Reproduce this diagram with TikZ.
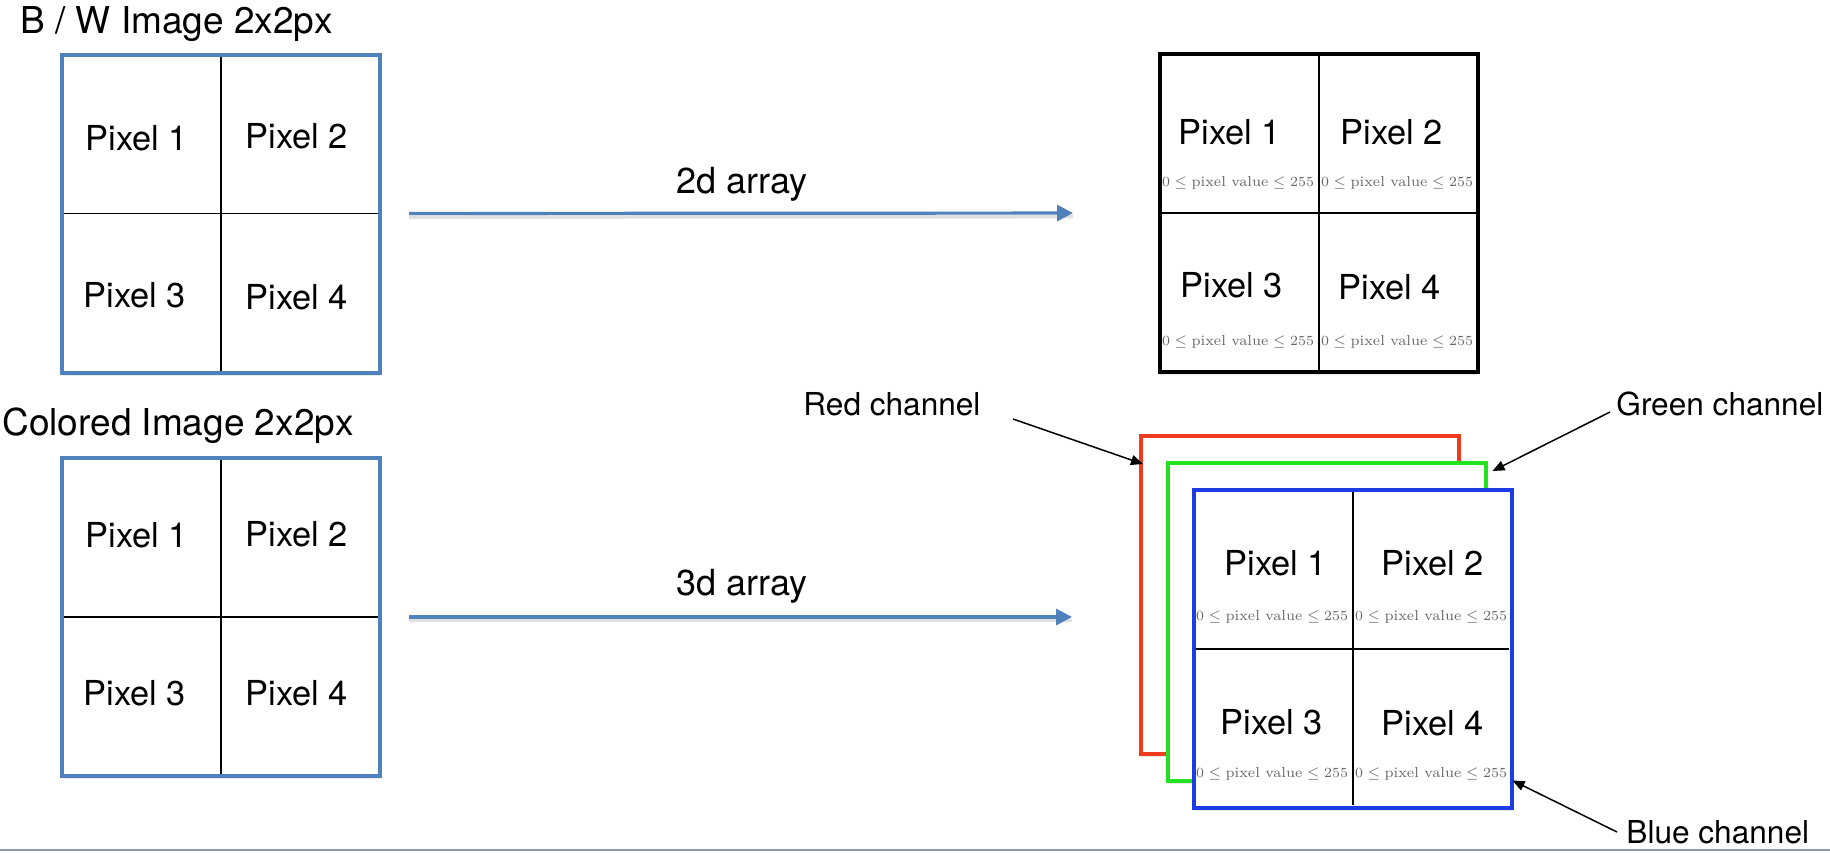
\documentclass[tikz,border=0pt]{standalone}
\usepackage[no-math]{fontspec}
\setmainfont{TeX Gyre Heros}
\usetikzlibrary{arrows.meta,calc,shadows}

\definecolor{pptblue}{HTML}{4F81BD}
\definecolor{chred}{HTML}{F03C1E}
\definecolor{chgreen}{HTML}{22E322}
\definecolor{chblue}{HTML}{1E3CE6}
\definecolor{rangegray}{HTML}{666666}
\definecolor{slideline}{HTML}{8C9BAA}

% value range printed under each pixel of an array
\newcommand{\pxrange}{$0\leq\mbox{pixel value}\leq255$}

\begin{document}
\begin{tikzpicture}[x=0.5pt,y=-0.5pt,
  grid/.style={draw, fill=white, line width=2pt, minimum width=159pt,
    minimum height=159pt, outer sep=0pt, inner sep=0pt,
    drop shadow={shadow xshift=0pt, shadow yshift=-1.5pt, opacity=0.18}},
  thindiv/.style={line width=0.6pt, shorten <=1pt, shorten >=1pt},
  thickdiv/.style={line width=1pt, shorten <=1.1pt, shorten >=1.1pt},
  pixlbl/.style={font=\fontsize{17.2}{19}\selectfont, inner sep=0pt},
  rangelbl/.style={font=\fontsize{7.2}{8.5}\fontfamily{lmr}\selectfont,
    text=rangegray, inner sep=0pt},
  title/.style={font=\fontsize{18.5}{21}\selectfont, inner sep=0pt},
  arrlbl/.style={font=\fontsize{18}{21}\selectfont, inner sep=0pt},
  chlbl/.style={font=\fontsize{15.8}{18}\selectfont, inner sep=0pt},
  bluearrow/.style={draw=pptblue, line width=1.6pt,
    -{Triangle[length=8pt,width=8pt]},
    preaction={-, draw=black, draw opacity=0.12, line width=1.8pt,
      transform canvas={yshift=-1.8pt}}},
  callout/.style={draw=black, line width=0.75pt,
    -{Triangle[length=6pt,width=5pt]}}
]
\useasboundingbox (0,0) rectangle (1830,852);
\fill[white] (0,0) rectangle (1830,852);

% ---- black & white image ----
\node[title, anchor=base west] (bwtitle) at (20,33) {B / W Image 2x2px};
\node[grid, draw=pptblue] (bwimg) at (221,213.5) {};
\draw[thindiv] (bwimg.north) -- (bwimg.south);
\draw[thindiv] (bwimg.west) -- (bwimg.east);
\node[pixlbl] (bwp1) at (137,138) {Pixel 1};
\node[pixlbl] (bwp2) at (297,136) {Pixel 2};
\node[pixlbl] (bwp3) at (135,295) {Pixel 3};
\node[pixlbl] (bwp4) at (297,297) {Pixel 4};

% ---- coloured image ----
\node[title, anchor=base west] (coltitle) at (2,435) {Colored Image 2x2px};
\node[grid, draw=pptblue] (colimg) at (221,617) {};
\draw[thindiv] (colimg.north) -- (colimg.south);
\draw[thindiv] (colimg.west) -- (colimg.east);
\node[pixlbl] (cp1) at (137,535) {Pixel 1};
\node[pixlbl] (cp2) at (297,534) {Pixel 2};
\node[pixlbl] (cp3) at (135,693) {Pixel 3};
\node[pixlbl] (cp4) at (297,693) {Pixel 4};

% ---- 2d array ----
\node[grid, draw=black, line width=2.2pt] (arr2d) at (1319,213) {};
\draw[thickdiv] (arr2d.north) -- (arr2d.south);
\draw[thickdiv] (arr2d.west) -- (arr2d.east);
\node[pixlbl] (ap1) at (1230,132) {Pixel 1};
\node[pixlbl] (ap2) at (1392,132) {Pixel 2};
\node[pixlbl] (ap3) at (1232,285) {Pixel 3};
\node[pixlbl] (ap4) at (1390,287) {Pixel 4};
\node[rangelbl] (ar1) at (1238,183) {\pxrange};
\node[rangelbl] (ar2) at (1397,183) {\pxrange};
\node[rangelbl] (ar3) at (1238,342) {\pxrange};
\node[rangelbl] (ar4) at (1397,342) {\pxrange};

% ---- 3d array: one layer per channel ----
\node[grid, draw=chred] (red) at (1300,595) {};
\node[grid, draw=chgreen] (green) at (1326.5,622) {};
\node[grid, draw=chblue] (blue) at (1352.5,648.5) {};
\draw[thickdiv] (blue.north) -- (blue.south);
\draw[thickdiv] (blue.west) -- (blue.east);
\node[pixlbl] (bp1) at (1276,563) {Pixel 1};
\node[pixlbl] (bp2) at (1433,563) {Pixel 2};
\node[pixlbl] (bp3) at (1272,722) {Pixel 3};
\node[pixlbl] (bp4) at (1433,723) {Pixel 4};
\node[rangelbl] (br1) at (1272,617) {\pxrange};
\node[rangelbl] (br2) at (1431,617) {\pxrange};
\node[rangelbl] (br3) at (1272,774) {\pxrange};
\node[rangelbl] (br4) at (1431,774) {\pxrange};

% ---- conversions ----
\draw[bluearrow, shorten <=14.5pt, shorten >=43.5pt] (bwimg.east) -- (arr2d.west);
\node[arrlbl, anchor=base] (lbl2d) at (742,193) {2d array};
\draw[bluearrow, shorten <=14.5pt, shorten >=34.5pt] (colimg.east) -- (colimg.east -| red.west);
\node[arrlbl, anchor=base] (lbl3d) at (742,595) {3d array};

% ---- channel call-outs ----
\node[chlbl, anchor=base west] (redlbl) at (803,415) {Red channel};
\node[chlbl, anchor=base west] (greenlbl) at (1616,415) {Green channel};
\node[chlbl, anchor=base west] (bluelbl) at (1626,843) {Blue channel};
\coordinate (redtail) at (1013,419);
\coordinate (greentail) at (1610,412);
\coordinate (bluetail) at (1617,832);
\draw[callout] (redtail) -- ($(red.north west)+(2,28)$);
\draw[callout] (greentail) -- ($(green.north east)+(7,8)$);
\draw[callout] (bluetail) -- ($(blue.south east)+(1,-27)$);

% slide edge
\draw[slideline, line width=1pt] (0,850) -- (1830,850);
\end{tikzpicture}
\end{document}
